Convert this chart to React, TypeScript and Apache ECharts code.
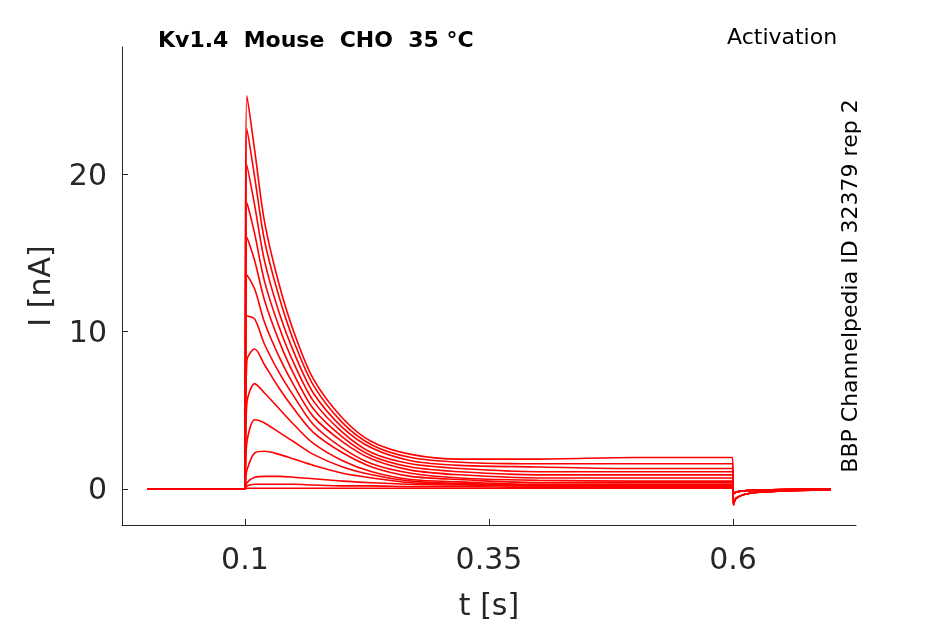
import React, { useEffect, useRef } from "react";
import * as echarts from "echarts";

const times = [0, 0.0999, 0.1005, 0.102, 0.11, 0.12, 0.135, 0.15, 0.17, 0.2, 0.23, 0.27, 0.32, 0.4, 0.5, 0.5995, 0.6005, 0.603, 0.615, 0.64, 0.7];
const bigTail = [-1.0, -0.6, -0.3, -0.15, -0.05];
const smallTail = [-0.3, -0.2, -0.1, -0.05, 0];
const traces: number[][] = [
  [0, 0, 15, 25, 21.5, 17, 13, 10, 7, 4.5, 3.0, 2.2, 1.9, 1.9, 2.0, 2.0, ...bigTail],
  [0, 0, 13, 22.9, 19.8, 15.8, 12.2, 9.4, 6.6, 4.2, 2.8, 2.0, 1.7, 1.6, 1.6, 1.6, ...bigTail],
  [0, 0, 11, 20.6, 18, 14.5, 11.2, 8.7, 6.1, 3.9, 2.6, 1.8, 1.5, 1.4, 1.3, 1.3, ...bigTail],
  [0, 0, 9, 18.2, 16.2, 13.2, 10.3, 8, 5.6, 3.6, 2.3, 1.6, 1.3, 1.1, 1.1, 1.1, ...bigTail],
  [0, 0, 7.5, 16, 14.5, 12, 9.4, 7.3, 5.1, 3.3, 2.1, 1.4, 1.1, 0.9, 0.9, 0.9, ...bigTail],
  [0, 0, 6, 13.6, 12.7, 10.6, 8.4, 6.6, 4.6, 3.0, 1.9, 1.2, 0.9, 0.7, 0.7, 0.7, ...bigTail],
  [0, 0, 4.5, 11, 10.8, 9.2, 7.4, 5.9, 4.1, 2.6, 1.6, 1.0, 0.7, 0.55, 0.5, 0.5, ...smallTail],
  [0, 0, 3, 8.2, 8.9, 7.9, 6.4, 5.1, 3.6, 2.3, 1.4, 0.8, 0.6, 0.4, 0.4, 0.4, ...smallTail],
  [0, 0, 1.8, 5.5, 6.7, 6.1, 5.1, 4.1, 2.9, 1.8, 1.1, 0.6, 0.45, 0.3, 0.3, 0.3, ...smallTail],
  [0, 0, 0.8, 3, 4.4, 4.2, 3.6, 3.0, 2.2, 1.4, 0.9, 0.5, 0.35, 0.25, 0.2, 0.2, ...smallTail],
  [0, 0, 0.3, 1.2, 2.3, 2.4, 2.2, 1.9, 1.5, 1.0, 0.7, 0.4, 0.3, 0.2, 0.2, 0.2, ...smallTail],
  [0, 0, 0.1, 0.4, 0.75, 0.8, 0.8, 0.75, 0.65, 0.5, 0.4, 0.3, 0.25, 0.2, 0.15, 0.15, ...smallTail],
  [0, 0, 0.05, 0.2, 0.3, 0.3, 0.3, 0.3, 0.25, 0.2, 0.2, 0.15, 0.15, 0.1, 0.1, 0.1, ...smallTail],
  [0, 0, 0.05, 0.05, 0.05, 0.05, 0.05, 0.05, 0.05, 0.05, 0.05, 0.05, 0.05, 0.05, 0.05, 0.05, ...smallTail],
];
const xTicks = [0.1, 0.35, 0.6];
const yTicks = [0, 10, 20];

const F = "DejaVu Sans";
const C = "#262626";

export default function App() {
  const ref = useRef<HTMLDivElement>(null);
  useEffect(() => {
    const chart = echarts.init(ref.current!, undefined, { renderer: "svg" });
    chart.setOption({
      animation: false,
      grid: { left: 122, right: 89, top: 47, bottom: 98 },
      xAxis: {
        type: "value", min: -0.026, max: 0.726,
        name: "t [s]", nameLocation: "middle", nameGap: 64,
        nameTextStyle: { fontFamily: F, fontSize: 30, color: C },
        axisLine: { onZero: false, lineStyle: { color: C } },
        axisTick: { inside: true, length: 6, customValues: xTicks, lineStyle: { color: C } },
        axisLabel: { customValues: xTicks, fontFamily: F, fontSize: 30, color: C, margin: 18, formatter: (v: number) => String(v) },
        splitLine: { show: false },
      },
      yAxis: {
        type: "value", min: -2.29, max: 28.1,
        name: "I [nA]", nameLocation: "middle", nameGap: 68,
        nameTextStyle: { fontFamily: F, fontSize: 30, color: C },
        axisLine: { show: true, onZero: false, lineStyle: { color: C } },
        axisTick: { show: true, inside: true, length: 6, customValues: yTicks, lineStyle: { color: C } },
        axisLabel: { customValues: yTicks, fontFamily: F, fontSize: 30, color: C, margin: 15 },
        splitLine: { show: false },
      },
      graphic: [
        { type: "text", left: 158, top: 28, style: { text: "Kv1.4  Mouse  CHO  35 °C", font: `bold 22px '${F}'`, fill: "#000" } },
        { type: "text", left: 727, top: 25, style: { text: "Activation", font: `22px '${F}'`, fill: "#000" } },
        { type: "text", x: 849, y: 286, rotation: Math.PI / 2, style: { text: "BBP Channelpedia ID 32379 rep 2", font: `22px '${F}'`, fill: "#000", align: "center", verticalAlign: "middle" } },
      ],
      series: traces.map((tr) => ({
        type: "line", showSymbol: false, symbol: "none", smooth: 0.3,
        lineStyle: { color: "#ff0000", width: 1.6 },
        data: tr.map((v, i) => [times[i], v]),
      })),
    });
    return () => chart.dispose();
  }, []);
  return <div ref={ref} style={{ position: "fixed", left: 0, top: 0, width: 945, height: 624 }} />;
}
